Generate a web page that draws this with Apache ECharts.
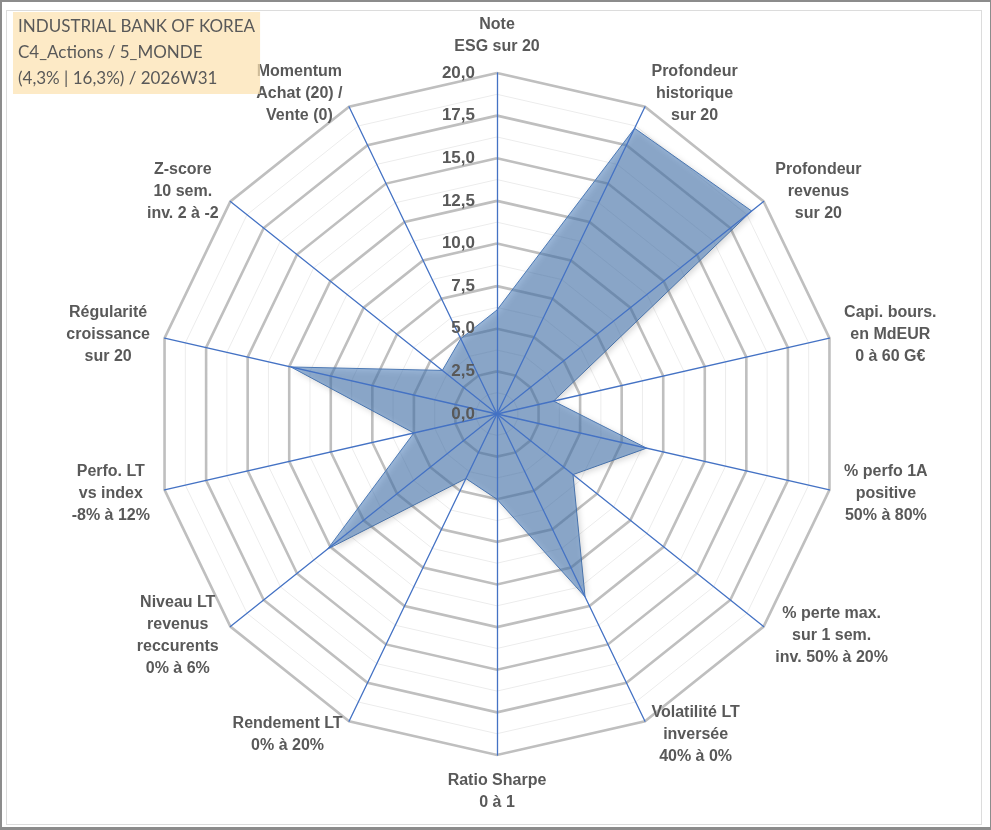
<!DOCTYPE html>
<html>
<head>
<meta charset="utf-8">
<title>Radar</title>
<script src="https://cdn.jsdelivr.net/npm/echarts@6/dist/echarts.min.js"></script>
<style>
  html, body { margin: 0; padding: 0; background: #fff; }
  #frame { position: relative; width: 991px; height: 830px; box-sizing: border-box; border: 1px solid #8c8c8c; border-width: 2px 1px 3px 2px; }
  #inner { position: absolute; left: 4px; top: 8px; width: 976px; height: 815px; box-sizing: border-box; border: 1px solid #dcdcdc; }
  #main { position: absolute; left: 0; top: 0; width: 991px; height: 830px; }
</style>
</head>
<body>
<div id="frame"><div id="inner"></div></div>
<div id="main"></div>
<script>
// axes in clockwise order, starting at the top
var axisNames = [
  'Note\nESG sur 20',
  'Profondeur\nhistorique\nsur 20',
  'Profondeur\nrevenus\nsur 20',
  'Capi. bours.\nen MdEUR\n0 à 60 G€',
  '% perfo 1A\npositive\n50% à 80%',
  '% perte max.\nsur 1 sem.\ninv. 50% à 20%',
  'Volatilité LT\ninversée\n40% à 0%',
  'Ratio Sharpe\n0 à 1',
  'Rendement LT\n0% à 20%',
  'Niveau LT\nrevenus\nreccurents\n0% à 6%',
  'Perfo. LT\nvs index\n-8% à 12%',
  'Régularité\ncroissance\nsur 20',
  'Z-score\n10 sem.\ninv. 2 à -2',
  'Momentum\nAchat (20) /\nVente (0)'
];
var scores = [6.1, 18.6, 19.1, 3.4, 9.0, 5.7, 11.9, 5.0, 4.2, 12.7, 5.0, 12.4, 4.1, 4.9];
var axisMax = 20;
var titleLines = ['INDUSTRIAL BANK OF KOREA', 'C4_Actions / 5_MONDE', '(4,3% | 16,3%) / 2026W31'];

// echarts lays indicators counter-clockwise, so reverse all but the first
var order = [0];
for (var k = axisNames.length - 1; k > 0; k--) order.push(k);

function indicators(withLabel) {
  return order.map(function (i, pos) {
    var ind = { name: axisNames[i], max: axisMax, min: 0 };
    if (withLabel && pos > 0) ind.axisLabel = { show: false };
    return ind;
  });
}

var center = [497, 414];
var radius = 341;

var myChart = echarts.init(document.getElementById('main'));
var option = {
  animation: false,
  title: {
    text: titleLines.join('\n'),
    left: 13,
    top: 12,
    padding: [2, 5, 2, 5],
    backgroundColor: 'rgba(252,226,176,0.72)',
    textStyle: {
      fontFamily: 'Lato',
      fontSize: 17,
      fontWeight: 'normal',
      color: '#595959',
      lineHeight: 26
    }
  },
  radar: [
    {
      // faint minor rings
      center: center, radius: radius, shape: 'polygon', splitNumber: 16,
      indicator: indicators(false),
      axisName: { show: false },
      axisLine: { show: false },
      axisLabel: { show: false },
      splitArea: { show: false },
      splitLine: { lineStyle: { color: '#ececec', width: 1 } }
    },
    {
      // major rings
      center: center, radius: radius, shape: 'polygon', splitNumber: 8,
      indicator: indicators(false),
      axisName: { show: false },
      axisLine: { show: false },
      axisLabel: { show: false },
      splitArea: { show: false },
      splitLine: { lineStyle: { color: '#bfbfbf', width: 2.6 } }
    },
    {
      // spokes, names and value labels above the area
      z: 3,
      center: center, radius: radius, shape: 'polygon', splitNumber: 8,
      indicator: indicators(true),
      splitArea: { show: false },
      splitLine: { show: false },
      axisLine: { lineStyle: { color: '#4472c4', width: 1.3 } },
      axisLabel: {
        show: true,
        margin: 22,
        fontFamily: 'Liberation Sans',
        fontSize: 17,
        fontWeight: 'bold',
        color: '#595959',
        formatter: function (v) { return v.toFixed(1).replace('.', ','); }
      },
      nameGap: 15,
      axisName: {
        fontFamily: 'Liberation Sans',
        fontSize: 16,
        fontWeight: 'bold',
        color: '#595959',
        lineHeight: 22,
        formatter: function (name) {
          return name.split('\n').map(function (s) { return '{c|' + s + '}'; }).join('\n');
        },
        rich: {
          c: {
            align: 'center',
            fontFamily: 'Liberation Sans',
            fontSize: 16,
            fontWeight: 'bold',
            color: '#595959',
            lineHeight: 22
          }
        }
      }
    }
  ],
  series: [{
    type: 'radar',
    radarIndex: 1,
    symbol: 'none',
    lineStyle: { color: '#4f7cba', width: 1 },
    areaStyle: {
      color: 'rgba(76,126,187,0.8)',
      shadowBlur: 6,
      shadowOffsetX: 2,
      shadowOffsetY: 2,
      shadowColor: 'rgba(0,0,0,0.3)'
    },
    data: [{ value: order.map(function (i) { return scores[i]; }), name: 'Score' }]
  }]
};
myChart.setOption(option);
</script>
</body>
</html>
